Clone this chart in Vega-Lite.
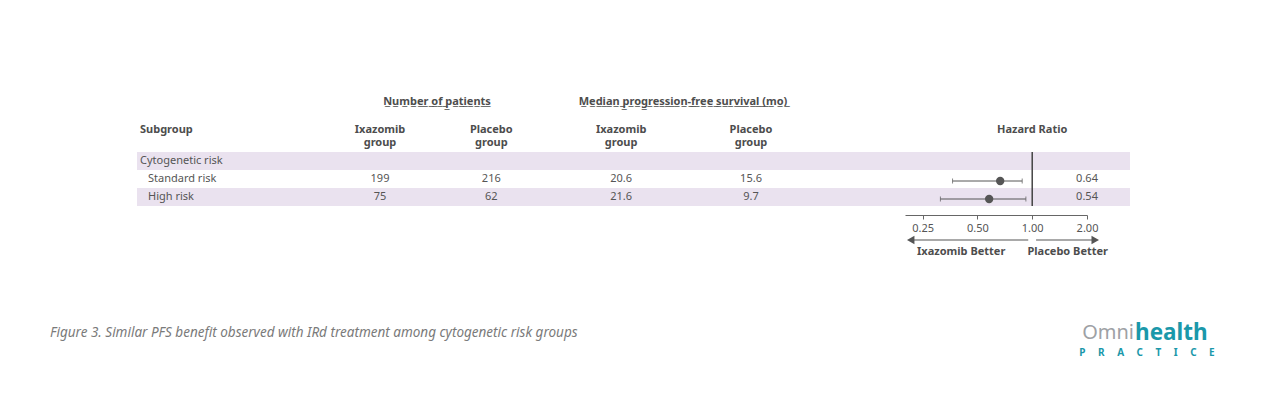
{
  "$schema": "https://vega.github.io/schema/vega-lite/v6.json",
  "width": 993,
  "height": 401,
  "autosize": {"type": "none"},
  "padding": {"left": 137, "right": 136, "top": 0, "bottom": 0},
  "background": "#ffffff",
  "config": {
    "view": {"stroke": null},
    "font": "Noto Sans",
    "text": {"font": "Noto Sans", "fontSize": 11, "color": "#555555", "baseline": "middle"}
  },
  "datasets": {
    "rows": [
      {"row": "cyto", "label": "Cytogenetic risk", "level": "group"},
      {"row": "std", "label": "Standard risk", "level": "item"},
      {"row": "high", "label": "High risk", "level": "item"}
    ],
    "cells": [
      {"row": "std", "col": "ixa_n", "v": "199"},
      {"row": "std", "col": "pla_n", "v": "216"},
      {"row": "std", "col": "ixa_m", "v": "20.6"},
      {"row": "std", "col": "pla_m", "v": "15.6"},
      {"row": "high", "col": "ixa_n", "v": "75"},
      {"row": "high", "col": "pla_n", "v": "62"},
      {"row": "high", "col": "ixa_m", "v": "21.6"},
      {"row": "high", "col": "pla_m", "v": "9.7"}
    ],
    "colheads": [
      {"col": "ixa_n", "line": "hdr", "text": "Ixazomib\ngroup"},
      {"col": "pla_n", "line": "hdr", "text": "Placebo\ngroup"},
      {"col": "ixa_m", "line": "hdr", "text": "Ixazomib\ngroup"},
      {"col": "pla_m", "line": "hdr", "text": "Placebo\ngroup"}
    ],
    "groups": [
      {"grp": "num", "line": "grp", "text": "N\u0332u\u0332m\u0332b\u0332e\u0332r\u0332 \u0332o\u0332f\u0332 \u0332p\u0332a\u0332t\u0332i\u0332e\u0332n\u0332t\u0332s\u0332"},
      {"grp": "mpfs", "line": "grp", "text": "M\u0332e\u0332d\u0332i\u0332a\u0332n\u0332 \u0332p\u0332r\u0332o\u0332g\u0332r\u0332e\u0332s\u0332s\u0332i\u0332o\u0332n\u0332-\u0332f\u0332r\u0332e\u0332e\u0332 \u0332s\u0332u\u0332r\u0332v\u0332i\u0332v\u0332a\u0332l\u0332 \u0332(\u0332m\u0332o\u0332)\u0332"}
    ],
    "hr": [
      {"row": "std", "hr": "0.64", "est": 0.667, "lo": 0.365, "hi": 0.881},
      {"row": "high", "hr": "0.54", "est": 0.58, "lo": 0.313, "hi": 0.923}
    ],
    "arrows": [
      {"dir": "left", "from": 0.215, "to": 0.951, "head": 0.215, "lab": 0.407, "label": "Ixazomib Better"},
      {"dir": "right", "from": 1.05, "to": 2.22, "head": 2.22, "lab": 1.567, "label": "Placebo Better"}
    ]
  },
  "resolve": {"scale": {"x": "independent", "y": "independent"}},
  "layer": [
    {
      "data": {"name": "rows"},
      "transform": [{"filter": {"field": "row", "oneOf": ["cyto", "high"]}}],
      "mark": {"type": "rect", "color": "#EAE2EF"},
      "encoding": {
        "y": {"field": "row", "type": "nominal", "scale": {"type": "band", "domain": ["cyto", "std", "high"], "range": [152, 206], "paddingInner": 0, "paddingOuter": 0}, "axis": null}
      }
    },
    {
      "data": {"name": "rows"},
      "mark": {"type": "text", "align": "left"},
      "encoding": {
        "x": {"field": "level", "type": "nominal", "scale": {"type": "point", "domain": ["group", "item"], "range": [3, 11], "padding": 0}, "axis": null},
        "y": {"field": "row", "type": "nominal", "scale": {"type": "band", "domain": ["cyto", "std", "high"], "range": [152, 206], "paddingInner": 0, "paddingOuter": 0}, "axis": null},
        "text": {"field": "label"}
      }
    },
    {
      "data": {"name": "cells"},
      "mark": {"type": "text", "align": "center"},
      "encoding": {
        "x": {"field": "col", "type": "nominal", "scale": {"type": "point", "domain": ["ixa_n", "_1", "_2", "_3", "_4", "_5", "pla_n", "_6", "_7", "_8", "_9", "_10", "_11", "ixa_m", "_12", "_13", "_14", "_15", "_16", "_17", "pla_m"], "range": [243, 614], "padding": 0}, "axis": null},
        "y": {"field": "row", "type": "nominal", "scale": {"type": "band", "domain": ["cyto", "std", "high"], "range": [152, 206], "paddingInner": 0, "paddingOuter": 0}, "axis": null},
        "text": {"field": "v"}
      }
    },
    {
      "data": {"name": "colheads"},
      "mark": {"type": "text", "align": "center", "fontWeight": "bold", "lineBreak": "\n", "lineHeight": 13, "color": "#4d4d4d"},
      "encoding": {
        "x": {"field": "col", "type": "nominal", "scale": {"type": "point", "domain": ["ixa_n", "_1", "_2", "_3", "_4", "_5", "pla_n", "_6", "_7", "_8", "_9", "_10", "_11", "ixa_m", "_12", "_13", "_14", "_15", "_16", "_17", "pla_m"], "range": [243, 614], "padding": 0}, "axis": null},
        "y": {"field": "line", "type": "nominal", "scale": {"type": "point", "domain": ["grp", "hdr"], "range": [102, 130], "padding": 0}, "axis": null},
        "text": {"field": "text"}
      }
    },
    {
      "data": {"values": [{"level": "group", "line": "hdr", "text": "Subgroup"}]},
      "mark": {"type": "text", "align": "left", "fontWeight": "bold", "color": "#4d4d4d"},
      "encoding": {
        "x": {"field": "level", "type": "nominal", "scale": {"type": "point", "domain": ["group", "item"], "range": [3, 11], "padding": 0}, "axis": null},
        "y": {"field": "line", "type": "nominal", "scale": {"type": "point", "domain": ["grp", "hdr"], "range": [102, 130], "padding": 0}, "axis": null},
        "text": {"field": "text"}
      }
    },
    {
      "data": {"name": "groups"},
      "mark": {"type": "text", "align": "center", "fontWeight": "bold", "color": "#4d4d4d"},
      "encoding": {
        "x": {"field": "grp", "type": "nominal", "scale": {"type": "point", "domain": ["num", "mpfs"], "range": [300, 546], "padding": 0}, "axis": null},
        "y": {"field": "line", "type": "nominal", "scale": {"type": "point", "domain": ["grp", "hdr"], "range": [102, 130], "padding": 0}, "axis": null},
        "text": {"field": "text"}
      }
    },
    {
      "data": {"values": [{"line": "hdr", "text": "Hazard Ratio"}]},
      "mark": {"type": "text", "align": "center", "fontWeight": "bold", "color": "#4d4d4d"},
      "encoding": {
        "x": {"datum": 1, "type": "quantitative", "scale": {"type": "log", "domain": [0.2, 2], "range": [768, 950], "nice": false}, "axis": null},
        "y": {"field": "line", "type": "nominal", "scale": {"type": "point", "domain": ["grp", "hdr"], "range": [102, 130], "padding": 0}, "axis": null},
        "text": {"field": "text"}
      }
    },
    {
      "data": {"name": "rows"},
      "mark": {"type": "rect", "fill": "transparent", "stroke": "#3a3a3a", "strokeWidth": 1},
      "encoding": {
        "x": {"datum": 1, "type": "quantitative", "scale": {"type": "log", "domain": [0.2, 2], "range": [768, 950], "nice": false}, "axis": null},
        "x2": {"datum": 1},
        "y": {"field": "row", "type": "nominal", "scale": {"type": "band", "domain": ["cyto", "std", "high"], "range": [152, 206], "paddingInner": 0, "paddingOuter": 0}, "axis": null}
      }
    },
    {
      "data": {"name": "hr"},
      "mark": {"type": "rule", "color": "#555555", "strokeWidth": 1, "yOffset": 2},
      "encoding": {
        "x": {"field": "lo", "type": "quantitative", "scale": {"type": "log", "domain": [0.2, 2], "range": [768, 950], "nice": false},
          "axis": {"values": [0.25, 0.5, 1, 2], "format": ".2f", "orient": "bottom", "offset": -186, "title": null, "grid": false, "domainColor": "#666666", "tickColor": "#666666", "tickSize": 4, "labelColor": "#555555", "labelFontSize": 11, "labelFont": "Noto Sans", "labelPadding": 3, "labelFlush": false, "labelOverlap": false}},
        "x2": {"field": "hi"},
        "y": {"field": "row", "type": "nominal", "scale": {"type": "band", "domain": ["cyto", "std", "high"], "range": [152, 206], "paddingInner": 0, "paddingOuter": 0}, "axis": null}
      }
    },
    {
      "data": {"name": "hr"},
      "transform": [{"fold": ["lo", "hi"], "as": ["end", "val"]}],
      "mark": {"type": "tick", "color": "#555555", "thickness": 1, "size": 5, "yOffset": 2},
      "encoding": {
        "x": {"field": "val", "type": "quantitative", "scale": {"type": "log", "domain": [0.2, 2], "range": [768, 950], "nice": false}, "axis": null},
        "y": {"field": "row", "type": "nominal", "scale": {"type": "band", "domain": ["cyto", "std", "high"], "range": [152, 206], "paddingInner": 0, "paddingOuter": 0}, "axis": null}
      }
    },
    {
      "data": {"name": "hr"},
      "mark": {"type": "circle", "color": "#555555", "opacity": 1, "size": 70, "yOffset": 2},
      "encoding": {
        "x": {"field": "est", "type": "quantitative", "scale": {"type": "log", "domain": [0.2, 2], "range": [768, 950], "nice": false}, "axis": null},
        "y": {"field": "row", "type": "nominal", "scale": {"type": "band", "domain": ["cyto", "std", "high"], "range": [152, 206], "paddingInner": 0, "paddingOuter": 0}, "axis": null}
      }
    },
    {
      "data": {"name": "hr"},
      "mark": {"type": "text", "align": "center"},
      "encoding": {
        "x": {"datum": 2, "type": "quantitative", "scale": {"type": "log", "domain": [0.2, 2], "range": [768, 950], "nice": false}, "axis": null},
        "y": {"field": "row", "type": "nominal", "scale": {"type": "band", "domain": ["cyto", "std", "high"], "range": [152, 206], "paddingInner": 0, "paddingOuter": 0}, "axis": null},
        "text": {"field": "hr"}
      }
    },
    {
      "data": {"name": "arrows"},
      "mark": {"type": "rule", "color": "#555555", "strokeWidth": 1.2},
      "encoding": {
        "x": {"field": "from", "type": "quantitative", "scale": {"type": "log", "domain": [0.2, 2], "range": [768, 950], "nice": false}, "axis": null},
        "x2": {"field": "to"},
        "y": {"datum": "arrow", "type": "nominal", "scale": {"type": "point", "domain": ["arrow", "label"], "range": [240, 252], "padding": 0}, "axis": null}
      }
    },
    {
      "data": {"name": "arrows"},
      "mark": {"type": "point", "filled": true, "opacity": 1, "color": "#555555", "size": 75},
      "encoding": {
        "x": {"field": "head", "type": "quantitative", "scale": {"type": "log", "domain": [0.2, 2], "range": [768, 950], "nice": false}, "axis": null},
        "y": {"datum": "arrow", "type": "nominal", "scale": {"type": "point", "domain": ["arrow", "label"], "range": [240, 252], "padding": 0}, "axis": null},
        "shape": {"field": "dir", "type": "nominal", "scale": {"domain": ["left", "right"], "range": ["triangle-left", "triangle-right"]}, "legend": null}
      }
    },
    {
      "data": {"name": "arrows"},
      "mark": {"type": "text", "align": "center", "fontWeight": "bold", "color": "#4d4d4d"},
      "encoding": {
        "x": {"field": "lab", "type": "quantitative", "scale": {"type": "log", "domain": [0.2, 2], "range": [768, 950], "nice": false}, "axis": null},
        "y": {"datum": "label", "type": "nominal", "scale": {"type": "point", "domain": ["arrow", "label"], "range": [240, 252], "padding": 0}, "axis": null},
        "text": {"field": "label"}
      }
    },
    {
      "data": {"values": [{"id": "caption", "text": "Figure 3. Similar PFS benefit observed with IRd treatment among cytogenetic risk groups"}]},
      "mark": {"type": "text", "align": "left", "fontStyle": "italic", "fontSize": 13.5, "color": "#7a7a7a"},
      "encoding": {
        "x": {"field": "id", "type": "nominal", "scale": {"type": "point", "domain": ["caption", "brand"], "range": [-87, 998], "padding": 0}, "axis": null},
        "y": {"datum": "main", "type": "nominal", "scale": {"type": "point", "domain": ["main", "sub"], "range": [333, 353], "padding": 0}, "axis": null},
        "text": {"field": "text"}
      }
    },
    {
      "data": {"values": [{"id": "brand", "text": "Omni"}]},
      "mark": {"type": "text", "align": "right", "fontSize": 20, "color": "#9ea1a5", "dx": -1},
      "encoding": {
        "x": {"field": "id", "type": "nominal", "scale": {"type": "point", "domain": ["caption", "brand"], "range": [-87, 998], "padding": 0}, "axis": null},
        "y": {"datum": "main", "type": "nominal", "scale": {"type": "point", "domain": ["main", "sub"], "range": [333, 353], "padding": 0}, "axis": null},
        "text": {"field": "text"}
      }
    },
    {
      "data": {"values": [{"id": "brand", "text": "health"}]},
      "mark": {"type": "text", "align": "left", "fontSize": 22.5, "fontWeight": "bold", "color": "#1a98aa"},
      "encoding": {
        "x": {"field": "id", "type": "nominal", "scale": {"type": "point", "domain": ["caption", "brand"], "range": [-87, 998], "padding": 0}, "axis": null},
        "y": {"datum": "main", "type": "nominal", "scale": {"type": "point", "domain": ["main", "sub"], "range": [333, 353], "padding": 0}, "axis": null},
        "text": {"field": "text"}
      }
    },
    {
      "data": {"values": [{"id": "brand", "text": "P\u2003\u2005R\u2003\u2005A\u2003\u2005C\u2003\u2005T\u2003\u2005I\u2003\u2005C\u2003\u2005E"}]},
      "mark": {"type": "text", "align": "center", "fontSize": 10, "fontWeight": "bold", "color": "#1a98aa", "dx": 12},
      "encoding": {
        "x": {"field": "id", "type": "nominal", "scale": {"type": "point", "domain": ["caption", "brand"], "range": [-87, 998], "padding": 0}, "axis": null},
        "y": {"datum": "sub", "type": "nominal", "scale": {"type": "point", "domain": ["main", "sub"], "range": [333, 353], "padding": 0}, "axis": null},
        "text": {"field": "text"}
      }
    }
  ]
}
